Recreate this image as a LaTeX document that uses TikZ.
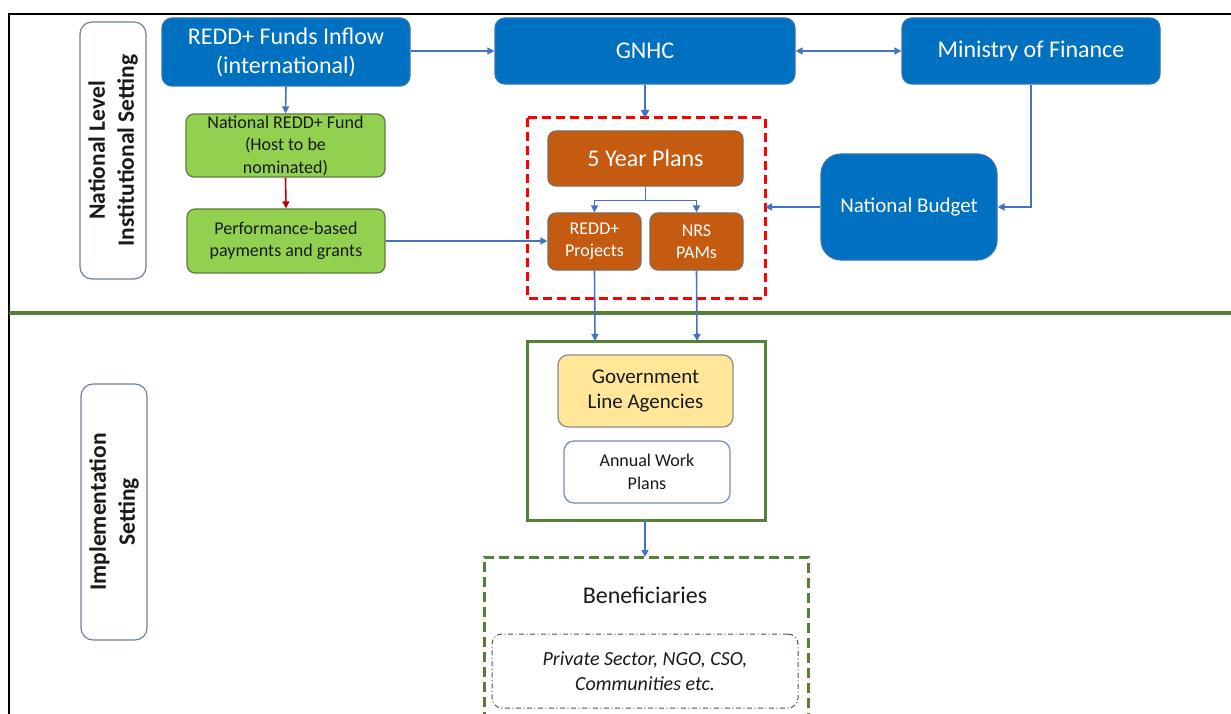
\documentclass[tikz,border=0pt]{standalone}
\usepackage{fontspec}
\setmainfont{Carlito}
\usetikzlibrary{arrows.meta}
\definecolor{blueBox}{HTML}{0070C0}
\definecolor{blueEdge}{HTML}{2E75B6}
\definecolor{arrowBlue}{HTML}{4472C4}
\definecolor{greenFill}{HTML}{92D050}
\definecolor{greenEdge}{HTML}{5B7F3A}
\definecolor{orangeFill}{HTML}{C55A11}
\definecolor{orangeEdge}{HTML}{7F6A5A}
\definecolor{yellowFill}{HTML}{FFE699}
\definecolor{yellowEdge}{HTML}{8C8C8C}
\definecolor{darkGreen}{HTML}{548235}
\definecolor{redDash}{HTML}{FF0000}
\definecolor{redArrow}{HTML}{C00000}
\definecolor{labelEdge}{HTML}{6F7F9F}
\definecolor{txt}{HTML}{1A1A1A}
\definecolor{dotEdge}{HTML}{44546A}
\newcommand\mybox[7]{\node[#6, minimum width={#4-#2}, minimum height={#5-#3}] (#1) at ({(#2+#4)/2},{(#3+#5)/2}) {#7};}
\tikzset{
  base/.style={inner sep=0pt, align=center, line width=1.2pt},
  bluebox/.style={base, fill=blueBox, draw=blueEdge, rounded corners=10pt, text=white, font=\fontsize{24}{29}\selectfont},
  greenbox/.style={base, fill=greenFill, draw=greenEdge, rounded corners=8pt, text=txt, font=\fontsize{18}{22.5}\selectfont},
  orangebox/.style={base, fill=orangeFill, draw=orangeEdge, rounded corners=8pt, text=white},
  labelbox/.style={base, draw=labelEdge, rounded corners=12pt},
  labeltext/.style={rotate=90, align=center, text=txt, font=\bfseries\fontsize{23.5}{29}\selectfont},
  conn/.style={draw=arrowBlue, line width=1.6pt, -{Triangle[length=7pt,width=7pt]}},
}
\begin{document}
\begin{tikzpicture}[x=1pt,y=-1pt]
\useasboundingbox (0,0) rectangle (1231,714);
% frame
\draw[black, line width=1.8pt] (9,714) -- (9,14) -- (1231,14);
\draw[darkGreen, line width=3.2pt] (9,313) -- (1231,313);
% left labels
\mybox{lab1}{80}{22}{146}{279}{labelbox}{}
\node[labeltext] (lab1t) at (lab1.center) {National Level\\Institutional Setting};
\mybox{lab2}{81}{384}{147}{640}{labelbox}{}
\node[labeltext] (lab2t) at (lab2.center) {Implementation\\Setting};
% blue boxes
\mybox{inflow}{162}{18}{410}{86}{bluebox}{REDD+ Funds Inflow\\(international)}
\mybox{gnhc}{495}{18}{795}{84}{bluebox}{GNHC}
\mybox{mof}{902}{18}{1160}{84}{bluebox}{Ministry of Finance}
\mybox{budget}{821}{154}{997}{260}{bluebox, rounded corners=20pt, font=\fontsize{21}{25}\selectfont}{National Budget}
% green boxes
\mybox{fund}{186}{114}{385}{177}{greenbox}{National REDD+ Fund\\(Host to be\\nominated)}
\mybox{perf}{187}{209}{385}{273}{greenbox}{Performance-based\\payments and grants}
% red dashed container
\draw[redDash, line width=3pt, dash pattern=on 9pt off 5pt] (527,118) rectangle (765,298);
\coordinate (redtop) at (645,118);
\coordinate (redright) at (765,207);
% orange boxes
\mybox{five}{548}{131}{743}{186}{orangebox, font=\fontsize{24}{29}\selectfont}{5 Year Plans}
\mybox{rproj}{548}{213}{641}{270}{orangebox, font=\fontsize{18}{22.5}\selectfont}{REDD+\\Projects}
\mybox{nrs}{650}{213}{743}{270}{orangebox, font=\fontsize{18}{22.5}\selectfont}{NRS\\PAMs}
% green solid container
\draw[darkGreen, line width=3pt] (527,341) rectangle (765,520);
\coordinate (gtopL) at (595,341);
\coordinate (gtopR) at (697,341);
\coordinate (gbot) at (645,520);
\mybox{gla}{558}{355}{733}{427}{base, fill=yellowFill, draw=yellowEdge, rounded corners=10pt, text=txt, font=\fontsize{21}{25.5}\selectfont}{Government\\Line Agencies}
\mybox{awp}{564}{441}{730}{503}{base, fill=white, draw=arrowBlue!80!black!70, rounded corners=10pt, text=txt, font=\fontsize{18}{22.5}\selectfont}{Annual Work\\Plans}
% green dashed container
\draw[darkGreen, line width=3pt, dash pattern=on 10pt off 5pt] (484,722) -- (484,557) -- (808,557) -- (808,722);
\coordinate (btop) at (645,557);
\node[text=txt, font=\fontsize{24}{29}\selectfont] (benef) at (645,595) {Beneficiaries};
\mybox{priv}{492}{634}{798}{708}{base, draw=dotEdge, line width=1pt, dash pattern=on 5pt off 2.5pt on 1pt off 2.5pt, rounded corners=10pt, text=txt, font=\itshape\fontsize{20}{25.5}\selectfont}{Private Sector, NGO, CSO,\\Communities etc.}
% connectors
\draw[conn] (inflow.south) -- (fund.north);
\draw[conn, draw=redArrow] (fund.south) -- (perf.north);
\draw[conn] (gnhc.west -| inflow.east) -- (gnhc.west);
\draw[conn, {Triangle[length=7pt,width=7pt]}-{Triangle[length=7pt,width=7pt]}] (gnhc.east) -- (mof.west);
\draw[conn, line width=2.4pt, -{Triangle[length=8pt,width=8pt]}] (gnhc.south) -- (redtop);
\draw[conn] (mof.south) |- (budget.east);
\draw[conn] (budget.west) -- (redright);
\draw[conn] (perf.east) -- (perf.east -| rproj.west);
\draw[conn] (five.south) -- ++(0,14) -| (rproj.north);
\draw[conn] (five.south) -- ++(0,14) -| (nrs.north);
\draw[conn] (rproj.south) -- (gtopL);
\draw[conn] (nrs.south) -- (gtopR);
\draw[conn] (gbot) -- (btop);
\end{tikzpicture}
\end{document}
